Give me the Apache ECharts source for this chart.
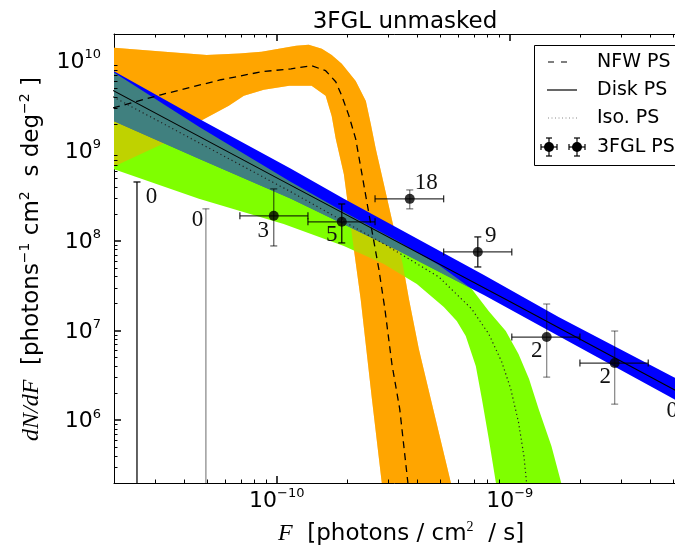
<!DOCTYPE html>
<html>
<head>
<meta charset="utf-8">
<script src="https://cdn.jsdelivr.net/npm/echarts@6/dist/echarts.min.js"></script>
<style>
  html, body { margin: 0; padding: 0; background: #fff; }
  #chart { width: 675px; height: 548px; }
</style>
</head>
<body>
<div id="chart"></div>
<script>
// ---- axis extents (photons/cm^2/s and dN/dF) ----
const xMin = 2e-11, xMax = 6.3e-9;
const yMin = 2e5, yMax = 2e10;
const xMajorExps = [-10, -9];
const yMajorExps = [6, 7, 8, 9, 10];

// ---- NFW PS posterior band and median, [F, dN/dF] ----
const nfwUpper = [[1.98e-11,1.41e10],[3.3e-11,1.27e10],[5.0e-11,1.17e10],[6.9e-11,1.21e10],[8.6e-11,1.27e10],
  [1.21e-10,1.48e10],[1.37e-10,1.52e10],[1.56e-10,1.37e10],[1.72e-10,1.17e10],[1.90e-10,9.3e9],[2.18e-10,6.0e9],
  [2.41e-10,3.6e9],[2.53e-10,2.0e9],[2.66e-10,1.05e9],[2.82e-10,5.4e8],[3.15e-10,1.53e8],[3.47e-10,5.5e7],
  [3.69e-10,2.24e7],[4.07e-10,6.2e6],[4.58e-10,1.72e6],[5.58e-10,2.04e5],[6.16e-10,7.9e4]];
const nfwLower = [[1.98e-11,6.6e8],[3.44e-11,1.29e9],[4.72e-11,2.16e9],[6.22e-11,3.18e9],[7.22e-11,4.1e9],
  [8.79e-11,4.79e9],[1.13e-10,5.3e9],[1.41e-10,5.3e9],[1.62e-10,4.1e9],[1.72e-10,2.45e9],[1.79e-10,1.36e9],
  [1.94e-10,5.5e8],[2.12e-10,9.7e7],[2.29e-10,2.24e7],[2.56e-10,1.72e6],[2.82e-10,2.04e5],[2.97e-10,7.9e4]];
const nfwMedian = [[1.98e-11,3.0e9],[3.18e-11,4.21e9],[5.75e-11,6.19e9],[8.62e-11,7.6e9],[1.15e-10,8.2e9],
  [1.41e-10,8.87e9],[1.62e-10,7.8e9],[1.79e-10,5.88e9],[1.90e-10,4.1e9],[2.04e-10,2.45e9],[2.18e-10,1.36e9],
  [2.32e-10,5.5e8],[2.53e-10,1.53e8],[2.74e-10,4.84e7],[2.91e-10,1.73e7],[3.12e-10,4.2e6],[3.37e-10,1.33e6],
  [3.65e-10,2.04e5],[3.76e-10,7.9e4]];

// ---- Disk PS band and median ----
const diskUpper = [[1.98e-11,7.8e9],[4.63e-11,2.28e9],[1.15e-10,6.3e8],[1.94e-10,2.92e8],[7.74e-10,4.15e7],
  [1.62e-9,1.41e7],[5.06e-9,3.02e6],[6.3e-9,2.3e6]];
const diskLower = [[1.98e-11,2.16e9],[4.63e-11,8.15e8],[1.15e-10,2.92e8],[3.34e-10,7.67e7],[7.74e-10,2.48e7],
  [1.62e-9,8.67e6],[5.06e-9,1.72e6],[6.3e-9,1.3e6]];
const diskMedian = [[1.98e-11,4.7e9],[1e-10,5.0e8],[1e-9,2.1e7],[5.06e-9,2.2e6],[6.3e-9,1.6e6]];

// ---- Iso. PS band and median ----
const isoUpper = [[1.98e-11,7.6e9],[4.63e-11,1.85e9],[1.15e-10,4.51e8],[1.94e-10,2.09e8],[3.34e-10,9.7e7],
  [4.96e-10,5.36e7],[6.87e-10,2.9e7],[8.13e-10,1.64e7],[9.61e-10,9.85e6],[1.09e-9,5.46e6],[1.21e-9,2.87e6],
  [1.33e-9,1.33e6],[1.51e-9,5.14e5],[1.66e-9,2.04e5],[1.79e-9,7.9e4]];
const isoLower = [[1.98e-11,6.3e8],[4.63e-11,2.92e8],[1.07e-10,1.53e8],[1.94e-10,8.73e7],[2.88e-10,5.5e7],
  [3.99e-10,3.29e7],[5.21e-10,1.82e7],[5.92e-10,1.27e7],[6.47e-10,8.67e6],[7.15e-10,4.0e6],[7.59e-10,1.72e6],
  [8.13e-10,6.15e5],[8.71e-10,2.04e5],[9.24e-10,7.9e4]];
const isoMedian = [[1.98e-11,4.0e9],[4.63e-11,1.23e9],[1.15e-10,3.49e8],[2.88e-10,9.2e7],[4.96e-10,3.94e7],
  [6.87e-10,1.73e7],[8.13e-10,9.1e6],[9.24e-10,4.45e6],[1.01e-9,2.22e6],[1.09e-9,9.5e5],[1.15e-9,3.98e5],
  [1.18e-9,2.04e5],[1.22e-9,7.9e4]];

// ---- 3FGL binned source counts ----
const fglF    = [9.7e-11, 1.90e-10, 3.72e-10, 7.29e-10, 1.44e-9, 2.82e-9];
const fglV    = [1.89e8, 1.62e8, 2.92e8, 7.48e7, 8.44e6, 4.33e6];
const fglFlo  = [6.94e-11, 1.36e-10, 2.64e-10, 5.2e-10, 1.02e-9, 2.0e-9];
const fglFhi  = [1.36e-10, 2.64e-10, 5.2e-10, 1.02e-9, 2.0e-9, 3.93e-9];
const fglVlo  = [8.73e7, 9.43e7, 2.26e8, 5.09e7, 3.02e6, 1.51e6];
const fglVhi  = [3.77e8, 2.56e8, 3.67e8, 1.10e8, 1.97e7, 9.85e6];
const fglCount = [3, 5, 18, 9, 2, 2];
// empty bins: only an upper error bar
const zeroF     = [2.51e-11, 4.96e-11, 5.53e-9];
const zeroUpper = [4.5e8, 2.26e8, 1.98e6];
const zeroCount = [0, 0, 0];

// ---- styling helpers ----
const fglBarAlpha  = [0.6, 0.9, 0.5, 0.9, 0.45, 0.45];
const zeroBarAlpha = [0.95, 0.45, 0.45];
const fglNudge  = [[-10.5, 15.5], [-10, 13.5], [16.5, -16], [13, -16.5], [-10, 13.5], [-9.5, 14]];
const zeroNudge = [[14.5, 14.5], [-8.5, 11.5], [-10.5, 17]];

const L = Math.log10;
const toLog = arr => arr.map(p => [L(p[0]), L(p[1])]);
const xLo = L(xMin), xHi = L(xMax), yLo = L(yMin), yHi = L(yMax);

function minorTicks(lo, hi) {
  const out = [];
  for (let k = Math.floor(lo) - 1; k <= Math.ceil(hi); k++) {
    for (let m = 2; m <= 9; m++) {
      const v = k + L(m);
      if (v > lo + 1e-3 && v < hi - 1e-3) out.push(v);
    }
  }
  return out;
}
const xMinor = minorTicks(xLo, xHi);
const yMinor = minorTicks(yLo, yHi);

const SANS = 'DejaVu Sans';
const expText = v => { const n = Math.round(v); return (n < 0 ? '\u2212' : '') + Math.abs(n); };
const tickRich = {
  b: { fontFamily: SANS, fontSize: 22, color: '#000', verticalAlign: 'bottom' },
  s: { fontFamily: SANS, fontSize: 13, color: '#000', verticalAlign: 'bottom', padding: [0, 0, 12, 0] }
};
const lineCol = '#000';

function axis(kind, position, range, major, withLabels) {
  const a = {
    type: 'value', position, min: range[0], max: range[1],
    splitLine: { show: false },
    axisLine: { show: true, onZero: false, lineStyle: { color: lineCol, width: 1 } },
    axisTick: { show: true, inside: true, length: 7, customValues: major, lineStyle: { color: lineCol, width: 1.5 } },
    axisLabel: { show: false },
    axisPointer: { show: false }
  };
  if (withLabels) {
    a.axisLabel = {
      show: true, customValues: major, margin: kind === 'x' ? 4 : 13,
      formatter: v => `{b|10}{s|${expText(v)}}`, rich: tickRich
    };
  }
  return a;
}

const nfwPoly  = toLog(nfwUpper.concat(nfwLower.slice().reverse()));
const isoPoly  = toLog(isoUpper.concat(isoLower.slice().reverse()));
const diskPoly = toLog(diskUpper.concat(diskLower.slice().reverse()));

function band(poly, fill, clipPoly) {
  return {
    type: 'custom', coordinateSystem: 'cartesian2d', clip: true, silent: true,
    data: [[xLo, yLo]],
    renderItem: (params, api) => {
      const el = { type: 'polygon', shape: { points: poly.map(p => api.coord(p)) }, style: { fill } };
      if (clipPoly) el.clipPath = { type: 'polygon', shape: { points: clipPoly.map(p => api.coord(p)) } };
      return el;
    }
  };
}

function medianLine(arr, color, width, dash) {
  return {
    type: 'line', data: toLog(arr), showSymbol: false, symbol: 'none', clip: true, silent: true,
    lineStyle: { color, width, type: dash }
  };
}

const fglRows = fglF.map((f, i) => [L(f), L(fglV[i]), L(fglFlo[i]), L(fglFhi[i]), L(fglVlo[i]), L(fglVhi[i]), i]);
const zeroRows = zeroF.map((f, i) => [L(f), L(zeroUpper[i]), i]);

const CAP = 3.5;
const seg = (x1, y1, x2, y2, style) => ({ type: 'line', shape: { x1, y1, x2, y2 }, style });

// minor log ticks on all four sides of the frame, pointing inwards
const minorTickMarks = {
  type: 'custom', coordinateSystem: 'cartesian2d', clip: false, silent: true, z: 5,
  data: [[xLo, yLo]],
  renderItem: (params, api) => {
    const cs = params.coordSys;
    const st = { stroke: '#000', lineWidth: 1 };
    const len = 3.5, kids = [];
    const top = cs.y, bot = cs.y + cs.height, left = cs.x, right = cs.x + cs.width;
    xMinor.forEach(v => {
      const x = Math.round(api.coord([v, yLo])[0]) + 0.5;
      kids.push(seg(x, bot, x, bot - len, st), seg(x, top, x, top + len, st));
    });
    yMinor.forEach(v => {
      const y = Math.round(api.coord([xLo, v])[1]) + 0.5;
      kids.push(seg(left, y, left + len, y, st), seg(right, y, right - len, y, st));
    });
    return { type: 'group', children: kids };
  }
};

const errorBars = {
  type: 'custom', coordinateSystem: 'cartesian2d', clip: true, silent: true,
  data: fglRows,
  renderItem: (params, api) => {
    const c = api.coord([api.value(0), api.value(1)]);
    const l = api.coord([api.value(2), api.value(1)]);
    const r = api.coord([api.value(3), api.value(1)]);
    const b = api.coord([api.value(0), api.value(4)]);
    const t = api.coord([api.value(0), api.value(5)]);
    const i = api.value(6);
    const hs = { stroke: 'rgba(0,0,0,0.8)', lineWidth: 1.3 };
    const vs = { stroke: `rgba(0,0,0,${fglBarAlpha[i]})`, lineWidth: 1.3 };
    return { type: 'group', children: [
      seg(l[0], c[1], r[0], c[1], hs),
      seg(l[0], c[1] - CAP, l[0], c[1] + CAP, hs),
      seg(r[0], c[1] - CAP, r[0], c[1] + CAP, hs),
      seg(c[0], t[1], c[0], b[1], vs),
      seg(c[0] - CAP, t[1], c[0] + CAP, t[1], vs),
      seg(c[0] - CAP, b[1], c[0] + CAP, b[1], vs)
    ] };
  }
};

const zeroBars = {
  type: 'custom', coordinateSystem: 'cartesian2d', clip: true, silent: true,
  data: zeroRows,
  renderItem: (params, api) => {
    const t = api.coord([api.value(0), api.value(1)]);
    const b = api.coord([api.value(0), yLo - 1]);
    const vs = { stroke: `rgba(0,0,0,${zeroBarAlpha[api.value(2)]})`, lineWidth: 1.3 };
    return { type: 'group', children: [
      seg(t[0], t[1], b[0], b[1], vs),
      seg(t[0] - CAP, t[1], t[0] + CAP, t[1], vs)
    ] };
  }
};

const countRows = fglRows.map((r, i) => [r[0], r[1], fglCount[i], fglNudge[i][0], fglNudge[i][1]])
  .concat(zeroRows.map((r, i) => [r[0], r[1], zeroCount[i], zeroNudge[i][0], zeroNudge[i][1]]));

const countLabels = {
  type: 'custom', coordinateSystem: 'cartesian2d', clip: false, silent: true,
  data: countRows,
  renderItem: (params, api) => {
    const p = api.coord([api.value(0), api.value(1)]);
    return {
      type: 'text', x: p[0] + api.value(3), y: p[1] + api.value(4),
      style: { text: String(api.value(2)), align: 'center', verticalAlign: 'middle',
        font: '23px "Liberation Serif", serif', fill: '#111' }
    };
  }
};

// ---- legend, title and axis names ----
const LX = 534.5, LY = 45.5;
function legendMarker(cx, cy) {
  const st = { stroke: '#000', lineWidth: 1.2 };
  return [
    { type: 'line', shape: { x1: cx - 8, y1: cy, x2: cx + 8, y2: cy }, style: st },
    { type: 'line', shape: { x1: cx - 8, y1: cy - 3, x2: cx - 8, y2: cy + 3 }, style: st },
    { type: 'line', shape: { x1: cx + 8, y1: cy - 3, x2: cx + 8, y2: cy + 3 }, style: st },
    { type: 'line', shape: { x1: cx, y1: cy - 9, x2: cx, y2: cy + 9 }, style: st },
    { type: 'line', shape: { x1: cx - 3, y1: cy - 9, x2: cx + 3, y2: cy - 9 }, style: st },
    { type: 'line', shape: { x1: cx - 3, y1: cy + 9, x2: cx + 3, y2: cy + 9 }, style: st },
    { type: 'circle', shape: { cx, cy, r: 5 }, style: { fill: '#000' } }
  ];
}
const legendFont = `19px "${SANS}", sans-serif`;
const legendText = (y, text) => ({ type: 'text', x: 597, y, style: { text, font: legendFont, fill: '#000', align: 'left', verticalAlign: 'middle' } });

const nameRich = {
  i: { fontFamily: 'Liberation Serif', fontStyle: 'italic', fontSize: 24, fill: '#000', verticalAlign: 'bottom' },
  n: { fontFamily: SANS, fontSize: 23, fill: '#000', verticalAlign: 'bottom' },
  s: { fontFamily: 'Liberation Serif', fontSize: 14, fill: '#000', verticalAlign: 'bottom', padding: [0, 0, 11, 0] },
  t: { fontFamily: SANS, fontSize: 14, fill: '#000', verticalAlign: 'bottom', padding: [0, 0, 11, 0] }
};

const graphics = [
  { type: 'text', x: 405, y: 22, style: { text: '3FGL unmasked', font: `23px "${SANS}", sans-serif`, fill: '#000', align: 'center', verticalAlign: 'middle' } },
  { type: 'rect', shape: { x: LX, y: LY, width: 152, height: 120 }, style: { fill: '#fff', stroke: '#000', lineWidth: 1 } },
  { type: 'line', shape: { x1: 548, y1: 62, x2: 568, y2: 62 }, style: { stroke: '#000', lineWidth: 1.2, lineDash: [6, 7] } },
  legendText(62, 'NFW PS'),
  { type: 'line', shape: { x1: 547, y1: 90, x2: 577, y2: 90 }, style: { stroke: '#000', lineWidth: 1.2 } },
  legendText(90, 'Disk PS'),
  { type: 'line', shape: { x1: 548, y1: 118, x2: 577, y2: 118 }, style: { stroke: '#888', lineWidth: 1, lineDash: [1, 2.5] } },
  legendText(118, 'Iso. PS'),
  ...legendMarker(549, 147), ...legendMarker(577, 147),
  legendText(147, '3FGL PS'),
  { type: 'text', x: 278, y: 533, style: {
      text: '{i|F}{n|  [photons / cm}{s|2}{n|  / s]}', align: 'left', verticalAlign: 'middle', rich: nameRich } },
  { type: 'text', x: 31, y: 259, rotation: Math.PI / 2, style: {
      text: '{i|dN/dF}{n|  [photons}{t|\u22121}{n| cm}{t|2}{n|  s deg}{t|\u22122}{n| ]}', align: 'center', verticalAlign: 'middle', rich: nameRich } }
];
graphics.forEach(g => { g.z = 100; g.silent = true; });

const chart = echarts.init(document.getElementById('chart'), null, { renderer: 'canvas' });
chart.setOption({
  animation: false,
  backgroundColor: '#fff',
  grid: { left: 114, top: 34, width: 582, height: 449, containLabel: false, outerBoundsMode: 'none' },
  xAxis: [
    axis('x', 'bottom', [xLo, xHi], xMajorExps, true),
    axis('x', 'top', [xLo, xHi], xMajorExps, false)
  ],
  yAxis: [
    axis('y', 'left', [yLo, yHi], yMajorExps, true),
    axis('y', 'right', [yLo, yHi], yMajorExps, false)
  ],
  series: [
    band(nfwPoly, '#FFA500'),
    band(isoPoly, '#7FFF00'),
    band(nfwPoly, 'rgba(255,165,0,0.5)'),
    band(diskPoly, '#0000FF'),
    band(isoPoly, 'rgba(127,255,0,0.5)', diskPoly),
    medianLine(nfwMedian, '#000', 1.3, [7, 5]),
    medianLine(diskMedian, '#000', 1.1, 'solid'),
    medianLine(isoMedian, '#222', 1.2, [1.2, 3]),
    errorBars,
    zeroBars,
    {
      type: 'scatter', data: fglRows.map(r => [r[0], r[1]]), symbol: 'circle', symbolSize: 10,
      itemStyle: { color: '#000' }, silent: true, clip: true
    },
    countLabels,
    minorTickMarks
  ],
  graphic: graphics
});
</script>
</body>
</html>
